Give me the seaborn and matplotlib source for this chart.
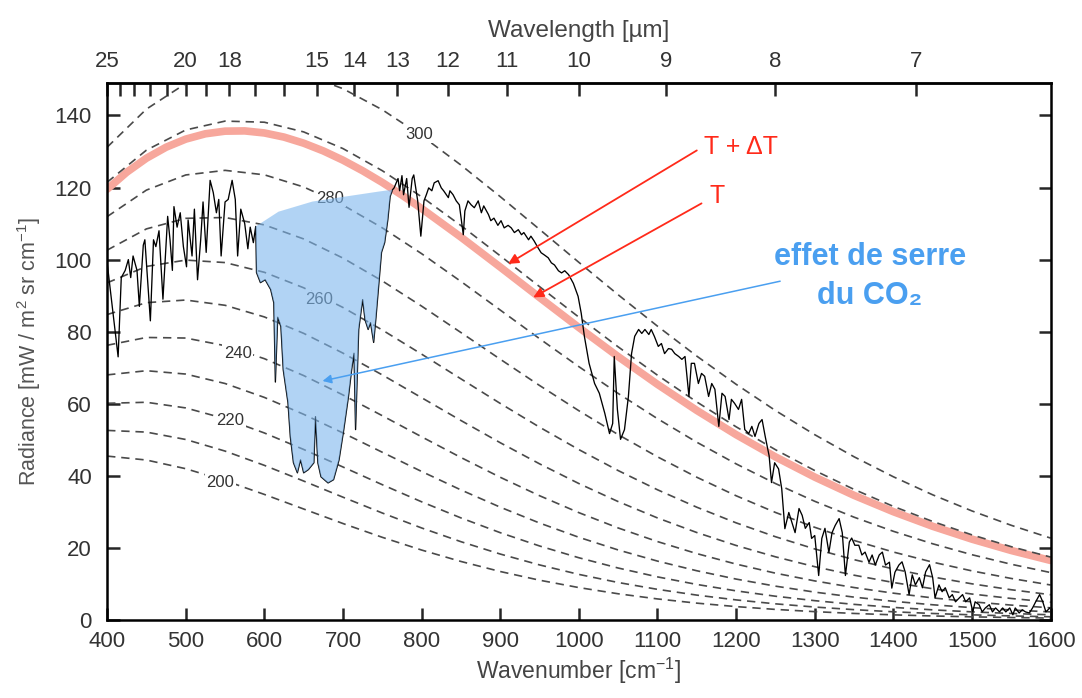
import numpy as np
import pandas as pd
import matplotlib
matplotlib.use("Agg")
import matplotlib.pyplot as plt
import seaborn as sns

# Blackbody reference curves (read at every 50 cm-1)
wn_grid = [400, 450, 500, 550, 600, 650, 700, 750, 800, 850, 900, 950, 1000,
           1050, 1100, 1150, 1200, 1250, 1300, 1350, 1400, 1450, 1500, 1550, 1600]
temps = [200, 210, 220, 230, 240, 250, 260, 270, 280, 290, 300]
rad_200 = [45.45, 44.36, 41.95, 38.64, 34.81, 30.76, 26.73, 22.90, 19.37, 16.20, 13.41, 11.00, 8.95,
           7.23, 5.80, 4.63, 3.67, 2.89, 2.27, 1.77, 1.38, 1.07, 0.83, 0.64, 0.49]
rad_210 = [52.58, 52.11, 50.06, 46.84, 42.88, 38.52, 34.04, 29.65, 25.50, 21.69, 18.26, 15.24, 12.61,
           10.36, 8.46, 6.86, 5.53, 4.44, 3.55, 2.82, 2.23, 1.76, 1.38, 1.08, 0.85]
rad_220 = [60.11, 60.39, 58.82, 55.84, 51.87, 47.29, 42.42, 37.51, 32.76, 28.29, 24.19, 20.50, 17.23,
           14.38, 11.92, 9.82, 8.04, 6.55, 5.32, 4.29, 3.45, 2.77, 2.21, 1.76, 1.39]
rad_230 = [67.99, 69.15, 68.22, 65.60, 61.74, 57.05, 51.87, 46.51, 41.18, 36.06, 31.27, 26.87, 22.91,
           19.39, 16.30, 13.62, 11.31, 9.35, 7.69, 6.30, 5.14, 4.18, 3.38, 2.73, 2.20]
rad_240 = [76.21, 78.38, 78.22, 76.10, 72.49, 67.80, 62.42, 56.66, 50.81, 45.06, 39.57, 34.45, 29.75,
           25.50, 21.72, 18.38, 15.47, 12.95, 10.80, 8.96, 7.40, 6.09, 5.00, 4.09, 3.33]
rad_250 = [84.74, 88.04, 88.77, 87.31, 84.08, 79.52, 74.03, 67.98, 61.66, 55.33, 49.16, 43.30, 37.83,
           32.82, 28.28, 24.23, 20.64, 17.49, 14.75, 12.39, 10.36, 8.63, 7.16, 5.93, 4.89]
rad_260 = [93.55, 98.09, 99.86, 99.17, 96.47, 92.17, 86.70, 80.45, 73.75, 66.89, 60.07, 53.48, 47.25,
           41.43, 36.10, 31.26, 26.92, 23.07, 19.67, 16.70, 14.12, 11.90, 9.99, 8.35, 6.97]
rad_270 = [102.62, 108.52, 111.45, 111.68, 109.63, 105.73, 100.41, 94.07, 87.08, 79.75, 72.34, 65.05, 58.04,
           51.41, 45.25, 39.58, 34.44, 29.81, 25.68, 22.03, 18.82, 16.01, 13.58, 11.48, 9.67]
rad_280 = [111.92, 119.29, 123.49, 124.77, 123.53, 120.16, 115.12, 108.81, 101.64, 93.93, 85.99, 78.04, 70.28,
           62.84, 55.83, 49.30, 43.29, 37.83, 32.90, 28.49, 24.57, 21.11, 18.07, 15.42, 13.12]
rad_290 = [121.46, 130.38, 135.98, 138.44, 138.13, 135.44, 130.81, 124.67, 117.42, 109.44, 101.04, 92.49, 84.01,
           75.77, 67.90, 60.48, 53.58, 47.23, 41.44, 36.20, 31.49, 27.30, 23.58, 20.30, 17.42]
rad_300 = [131.19, 141.77, 148.87, 152.63, 153.40, 151.52, 147.43, 141.59, 134.39, 126.24, 117.47, 108.38, 99.23,
           90.23, 81.51, 73.20, 65.38, 58.10, 51.39, 45.26, 39.71, 34.70, 30.22, 26.23, 22.69]

# surface curve "T" (thick pink), denser near the peak
surf_wn = [400, 425, 450, 475, 500, 525, 550, 575, 600, 625, 650, 675, 700, 725, 750, 775, 800, 850, 900, 950,
           1000, 1050, 1100, 1150, 1200, 1250, 1300, 1350, 1400, 1450, 1500, 1550, 1600]
rad_surface = [119.53, 124.26, 128.14, 131.19, 133.44, 134.92, 135.65, 135.72, 135.15, 134.00, 132.31, 130.16,
               127.59, 124.65, 121.41, 117.89, 114.17, 106.23, 97.91, 89.48, 81.14, 73.06, 65.36, 58.12, 51.40,
               45.23, 39.62, 34.55, 30.01, 25.96, 22.39, 19.24, 16.48]

# Measured spectrum, in segments
wn_a = [400, 414, 418, 423, 427, 430, 433, 438, 441, 446, 448, 455, 459, 462, 466, 471, 477, 480, 483, 485,
        489, 493, 497, 501, 503, 508, 511, 515, 519, 522, 526, 531, 535, 539, 542, 545, 550, 554, 559, 563,
        566, 570, 575, 579, 582, 586, 589]
rad_a = [99.2, 73, 95, 97, 100, 95, 101, 97, 87, 104, 105.5, 83, 105.5, 103.6, 108, 89, 112, 105.5, 97, 114.7,
         109, 113, 103.6, 98, 111, 101, 114, 94.4, 105.5, 116, 102, 122, 118.6, 113, 116.7, 101, 116, 116.7, 122, 116.7,
         101, 114, 110, 103, 109, 104.7, 109.2]
wn_b = [590, 595, 601, 608, 612, 614, 617, 621, 624, 630, 633, 637, 642, 646, 650, 656, 663, 665, 668, 672,
        681, 688, 695, 701, 707, 711, 714, 716, 719, 720, 725, 728, 732, 735, 739, 742, 746, 749, 753, 757,
        760, 763]
rad_b = [96.4, 93.6, 94.4, 91.7, 88, 66, 84, 81.4, 69.4, 60.3, 50.8, 43.6, 40.8, 44.4, 40.8, 41.7, 43.6, 56.4, 43.6, 39.7,
         38, 38.9, 44.4, 52.8, 62, 69.4, 74, 52.8, 73, 80.6, 88.9, 83.3, 80.6, 82.5, 77, 84, 94.4, 102, 104.7, 111,
         117.5, 119.4]
wn_c = [765, 770, 772, 775, 777, 781, 784, 788, 790, 795, 799, 803, 806, 809, 813, 816, 821, 825, 828, 834,
        836, 840, 844, 848, 853, 855, 859, 863, 867, 872, 876, 879, 885, 888, 892, 897, 901, 905, 910, 914,
        918, 923, 927, 930, 936, 939, 943, 948, 952, 956, 961, 965, 969, 974, 978, 982, 987]
rad_c = [119.9, 122.5, 119.1, 123.3, 118, 122.5, 114.5, 122.5, 123.5, 116.3, 106.5, 116.3, 118, 119.9, 119.1, 121.3,
         121.9, 119.9, 119.1, 117.2, 119.1, 118, 116.3, 115.2, 106.9, 113.5, 116.3, 115.2, 114.4, 116.3, 113, 114.9,
         112.5, 110.8, 111.5, 109.5, 110.8, 108.8, 109.5, 108.8, 107.5, 108.3, 106.9, 107.5, 105.5, 106.5, 105.2,
         103.3, 101.9, 101.3, 100.5, 99.1, 98.5, 96.9, 96.3, 96.9, 95.8]
wn_d = [993, 999, 1003, 1007, 1013, 1020, 1026, 1033, 1039, 1043, 1045, 1049, 1053, 1058, 1063, 1067, 1071, 1076,
        1080, 1084, 1089, 1092, 1096, 1101, 1105, 1109, 1114, 1118, 1122, 1127, 1131, 1135, 1140, 1143, 1147, 1152,
        1156, 1160, 1165, 1169, 1173, 1178, 1182, 1186, 1191, 1194, 1198, 1203, 1207, 1211, 1216, 1220, 1224, 1229,
        1233, 1237]
rad_d = [93.4, 89.8, 85.1, 78.7, 71.2, 65.6, 62.9, 57.3, 51.7, 54.5, 73.1, 58.4, 50.1, 52.8, 62, 73.9, 78.7, 80.6,
         79.5, 80.6, 79.2, 80.6, 78.7, 75.9, 76.7, 73.9, 75.3, 75.1, 73.9, 73.1, 72.3, 73.1, 62, 71.2, 71.2, 65.6,
         68.4, 67.6, 62, 65.6, 64, 53.7, 62.9, 62, 55.6, 61.2, 60.1, 58.4, 61.2, 52.8, 51.7, 53.7, 50.9, 54.5,
         55.6, 50.9]
wn_e = [1242, 1245, 1249, 1254, 1258, 1261, 1262, 1267, 1271, 1275, 1280, 1284, 1288, 1293, 1296, 1300, 1305, 1309,
        1313, 1318, 1322, 1326, 1331, 1335, 1339, 1344, 1347, 1351, 1356, 1360, 1364, 1369, 1373, 1377, 1382, 1386,
        1390, 1395, 1398, 1402, 1407, 1411, 1415, 1420, 1424, 1428, 1433, 1437, 1441, 1446, 1450, 1453, 1458, 1462,
        1466, 1471, 1475, 1479, 1484, 1488, 1492, 1497, 1501, 1504, 1509, 1513, 1517, 1522, 1526, 1530, 1535, 1539,
        1543, 1548, 1552, 1555, 1560, 1564, 1568, 1573, 1577, 1581, 1586, 1590, 1594, 1599]
rad_e = [45.5, 38.1, 43.6, 41.9, 36.4, 28, 25.3, 29.8, 27, 24.2, 30.9, 29, 25.4, 27, 22.6, 23.4, 12.3, 22.6,
         25.4, 18.7, 24.2, 26.2, 28.1, 24.2, 12.3, 21.6, 22.7, 20.7, 20.7, 18, 18.8, 16, 18, 15.2, 18, 18.8,
         15.2, 16, 8.8, 13.2, 15.2, 16.1, 13.3, 7, 12.5, 9.7, 11.7, 8.9, 13.3, 15.3, 11.7, 6.1, 9.7, 7.8,
         8.9, 6.1, 7, 5, 6.1, 7, 5, 6.1, 2.2, 5, 4.2, 2.2, 3.3, 4.2, 2.2, 3.3, 2.2, 3.3,
         2.2, 3.3, 1.4, 3.3, 1.9, 2.8, 2.2, 1.9, 3.3, 5, 7, 5, 2.2, 3.3]

# upper edge of the CO2 shaded area (from right to left)
co2_top_wn = [763, 746, 703, 661, 618, 589]
co2_top_rad = [119.4, 118.9, 117.5, 116.1, 113.3, 109.2]

# curve labels
label_temps = ["300", "280", "260", "240", "220", "200"]
label_wn = [797, 684, 669, 566, 557, 544]
label_rad = [134.8, 117.0, 88.8, 74.0, 55.4, 38.2]

# wavelength axis
wl_ticks = [25, 24, 23, 22, 21, 20, 19, 18, 17, 16, 15, 14, 13, 12, 11, 10, 9, 8, 7]
wl_labels = ["25", "", "", "", "", "20", "", "18", "", "", "15", "14", "13", "12", "11", "10", "9", "8", "7"]

sns.set_theme(style="white")
plt.rcParams["font.family"] = ["Liberation Sans", "DejaVu Sans"]
plt.rcParams["mathtext.default"] = "regular"

fig = plt.figure(figsize=(10.82, 6.98), dpi=100)
ax = fig.add_axes([0.099, 0.112, 0.872, 0.769])

# dashed blackbody curves
curves = [rad_200, rad_210, rad_220, rad_230, rad_240, rad_250, rad_260, rad_270, rad_280, rad_290, rad_300]
bb = pd.DataFrame({
    "wn": wn_grid * len(temps),
    "rad": sum(curves, []),
    "T": np.repeat(temps, len(wn_grid)),
})
sns.lineplot(data=bb, x="wn", y="rad", units="T", estimator=None, color="#4a4a4a",
             linewidth=1.2, linestyle=(0, (5, 3.5)), ax=ax, zorder=2)

# surface temperature curve
sns.lineplot(x=surf_wn, y=rad_surface, color="#f7a79c", linewidth=5.5, ax=ax, zorder=1.5,
             solid_joinstyle="round")

# measured spectrum
spec_wn = wn_a + wn_b + wn_c + wn_d + wn_e
spec_rad = rad_a + rad_b + rad_c + rad_d + rad_e
sns.lineplot(x=spec_wn, y=spec_rad, color="black", linewidth=0.95, estimator=None, sort=False, ax=ax, zorder=3)

# CO2 absorption area
poly_wn = [w for w in spec_wn if 589 <= w <= 763] + co2_top_wn
poly_rad = [r for w, r in zip(spec_wn, spec_rad) if 589 <= w <= 763] + co2_top_rad
ax.fill(poly_wn, poly_rad, color="#7eb7ee", alpha=0.6, lw=0, zorder=4)

for t, w, r in zip(label_temps, label_wn, label_rad):
    ax.text(w, r, t, fontsize=12, color="#333333", ha="center", va="center", zorder=3.5,
            bbox=dict(facecolor="white", edgecolor="none", pad=1.0))

# annotations
red = "#ff2a1a"
ax.annotate("", xy=(910, 98.8), xytext=(1150, 130.3),
            arrowprops=dict(arrowstyle="-|>", color=red, lw=1.3, mutation_scale=15, shrinkA=0, shrinkB=0), zorder=6)
ax.annotate("", xy=(942, 89.5), xytext=(1156, 115.6),
            arrowprops=dict(arrowstyle="-|>", color=red, lw=1.3, mutation_scale=15, shrinkA=0, shrinkB=0), zorder=6)
ax.text(1159, 131.2, "T + \u0394T", color=red, fontsize=18, ha="left", va="center")
ax.text(1166, 117.6, "T", color=red, fontsize=18, ha="left", va="center")

blue = "#4a9ff0"
ax.annotate("", xy=(674, 66.3), xytext=(1256, 94.0),
            arrowprops=dict(arrowstyle="-|>", color=blue, lw=1.1, mutation_scale=13, shrinkA=0, shrinkB=0), zorder=6)
ax.text(1370, 100.6, "effet de serre", color=blue, fontsize=22, fontweight="bold", ha="center", va="center")
ax.text(1370, 90.0, "du CO\u2082", color=blue, fontsize=22, fontweight="bold", ha="center", va="center")

# axes
ax.set_xlim(400, 1600)
ax.set_ylim(0, 149)
ax.set_xticks(range(400, 1601, 100))
ax.set_yticks(range(0, 141, 20))
ax.tick_params(axis="both", direction="in", length=9, width=1.8, labelsize=16, labelcolor="#333333",
               right=True, top=False, left=True, bottom=True)
ax.tick_params(axis="y", pad=11)
ax.tick_params(axis="x", pad=8)
for s in ax.spines.values():
    s.set_color("black")
    s.set_linewidth(1.8)
ax.set_xlabel("Wavenumber [cm$^{-1}$]", fontsize=16.5, color="#444444", labelpad=3)
ax.set_ylabel("Radiance [mW / m$^2$ sr cm$^{-1}$]", fontsize=15.5, color="#555555", labelpad=8)


def wn_to_wl(x):
    x = np.asarray(x, dtype=float)
    with np.errstate(divide="ignore", invalid="ignore"):
        return 1e4 / x


sec = ax.secondary_xaxis("top", functions=(wn_to_wl, wn_to_wl))
sec.set_ticks(wl_ticks, labels=wl_labels)
sec.tick_params(direction="in", length=9, width=1.8, labelsize=16, labelcolor="#333333", pad=8)
sec.spines["top"].set_linewidth(1.8)
sec.set_xlabel("Wavelength [\u00b5m]", fontsize=17.5, color="#444444", labelpad=10)

fig.savefig("out.png", dpi=100)
